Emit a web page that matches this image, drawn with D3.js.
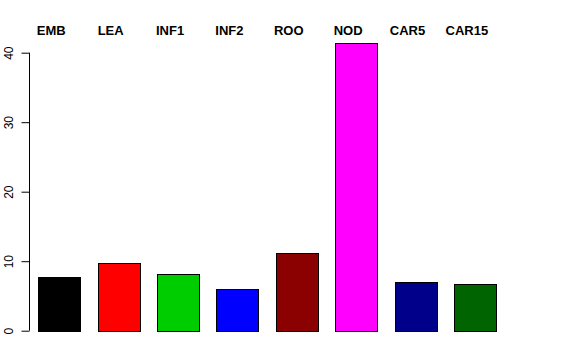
<!DOCTYPE html>
<html>
<head>
    <script src="https://cdn.jsdelivr.net/npm/d3@7"></script>
    <style>
        body { margin: 0; background: #fff; }
        text { font-family: "Liberation Sans", Arial, sans-serif; }
    </style>
</head>
<body>
<div id="chart"></div>
<script>
    // data
    var tissues = ["EMB", "LEA", "INF1", "INF2", "ROO", "NOD", "CAR5", "CAR15"];
    var values = [7.73, 9.7, 8.2, 5.96, 11.22, 41.35, 6.96, 6.68];
    var colours = ["#000000", "#FF0000", "#00CD00", "#0000FF", "#8B0000", "#FF00FF", "#00008B", "#006400"];
    var yTicks = [0, 10, 20, 30, 40];

    var width = 576,
        height = 360;

    var svg = d3.select("#chart")
        .append("svg")
            .attr("width", width)
            .attr("height", height);

    var x = d3.scaleBand()
        .domain(tissues)
        .range([29.6, 504.6])
        .paddingInner(0.2926)
        .paddingOuter(0.1463);

    var y = d3.scaleLinear()
        .domain([0, 40])
        .range([330.7, 52.7]);

    // y axis, R style: line spans first to last tick, labels turned
    var yAxis = svg.append("g")
        .attr("transform", "translate(29.5,0)")
        .call(d3.axisLeft(y).tickValues(yTicks).tickSize(8).tickSizeOuter(0));
    yAxis.select(".domain").remove();
    yAxis.append("line")
        .attr("y1", y(0))
        .attr("y2", y(40))
        .attr("stroke", "#000");
    yAxis.selectAll(".tick line").attr("stroke", "#000");
    yAxis.selectAll(".tick text")
        .attr("x", 0)
        .attr("dy", 0)
        .attr("transform", "translate(-17,0) rotate(-90)")
        .style("text-anchor", "middle")
        .style("font-size", "12px")
        .attr("fill", "#000");

    svg.selectAll(".bar")
        .data(values)
        .enter().append("rect")
            .attr("class", "bar")
            .attr("x", function(d, i) { return Math.round(x(tissues[i])) + 0.5; })
            .attr("y", function(d) { return Math.round(y(d)) + 0.5; })
            .attr("width", x.bandwidth())
            .attr("height", function(d) { return Math.round(y(0)) - Math.round(y(d)); })
            .attr("fill", function(d, i) { return colours[i]; })
            .attr("stroke", "#000")
            .attr("stroke-width", 1);

    svg.selectAll(".lab")
        .data(tissues)
        .enter().append("text")
            .attr("class", "lab")
            .attr("x", function(d) { return x(d) + x.bandwidth() / 2 - 8; })
            .attr("y", 34.5)
            .style("text-anchor", "middle")
            .style("font-size", "13px")
            .style("font-weight", "bold")
            .text(function(d) { return d; });
</script>
</body>
</html>
